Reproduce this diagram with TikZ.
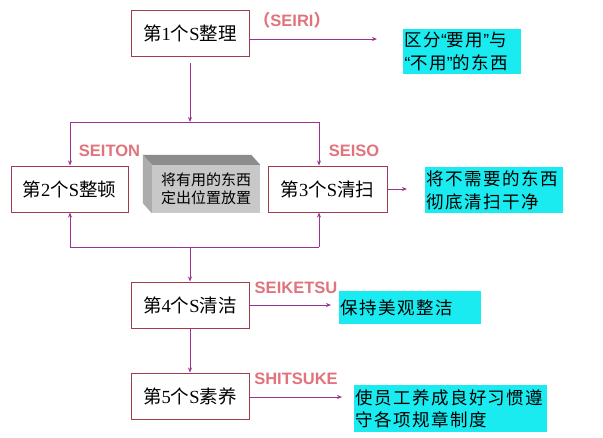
\documentclass[tikz,border=0pt]{standalone}
\usepackage{fontspec}
\usetikzlibrary{arrows.meta}
\newfontfamily\cjk{Noto Sans CJK SC}
\newfontfamily\cjkls{Noto Sans CJK SC}[LetterSpace=8]
\newfontfamily\lserif{Liberation Serif}
\newfontfamily\lsans{Liberation Sans}
\definecolor{bordercol}{RGB}{160,60,75}
\definecolor{arrowcol}{RGB}{155,50,145}
\definecolor{labelcol}{RGB}{225,115,125}
\definecolor{cyanfill}{RGB}{25,235,240}
\definecolor{grayfront}{RGB}{200,200,200}
\definecolor{grayside}{RGB}{172,172,172}
\definecolor{graytop}{RGB}{140,140,140}
\newcommand{\stitle}[2]{{\cjk 第}{\lserif #1}{\cjk 个}{\lserif S}{\cjk #2}}
\newcommand{\lqt}{{\lsans “}}
\newcommand{\rqt}{{\lsans ”}}
\begin{document}
\begin{tikzpicture}[x=1pt,y=-1pt,
  sbox/.style={draw=bordercol, line width=1pt, fill=white, minimum width=118pt, minimum height=46pt, inner sep=0pt, font=\fontsize{18.5}{20}\selectfont},
  cbox/.style={fill=cyanfill, anchor=north west, inner xsep=1.5pt, inner ysep=0pt, align=left, font=\cjkls\fontsize{17.5}{22.5}\selectfont},
  lab/.style={text=labelcol, font=\lsans\bfseries\fontsize{16.5}{18}\selectfont, inner sep=0pt},
  graybox/.style={fill=grayfront, minimum width=108pt, minimum height=48pt, inner sep=0pt, align=center, font=\cjk\fontsize{15}{18}\selectfont},
  arr/.style={draw=arrowcol, line width=0.9pt, -{Stealth[length=5pt,width=4pt]}},
  conn/.style={draw=arrowcol, line width=0.9pt}]
\useasboundingbox (0,0) rectangle (603,437);
\fill[white] (0,0) rectangle (603,437);

% main boxes
\node[sbox] (b1) at (190,33.5) {\stitle{1}{整理}};
\node[sbox, minimum width=117pt] (b2) at (69.5,189) {\stitle{2}{整顿}};
\node[sbox, minimum width=119pt] (b3) at (327.5,189) {\stitle{3}{清扫}};
\node[sbox] (b4) at (190,305) {\stitle{4}{清洁}};
\node[sbox] (b5) at (190,396) {\stitle{5}{素养}};

% gray 3D box
\node[graybox] (gray) at (206,189) {将有用的东西\\定出位置放置};
\fill[graytop] ([shift={(-9,-10)}]gray.north west) -- ([shift={(-9,-10)}]gray.north east) -- (gray.north east) -- (gray.north west) -- cycle;
\fill[grayside] ([shift={(-9,-10)}]gray.north west) -- (gray.north west) -- (gray.south west) -- ([shift={(-9,-10)}]gray.south west) -- cycle;

% cyan boxes
\node[cbox, minimum width=118pt, minimum height=45pt, text width=115pt] (c1) at (403,29) {区分\lqt 要用\rqt 与\\\lqt 不用\rqt 的东西};
\node[cbox, minimum width=138pt, minimum height=46pt, text width=135pt] (c3) at (425,167) {将不需要的东西\\彻底清扫干净};
\node[cbox, minimum width=142pt, minimum height=33pt, text width=139pt] (c4) at (339,291) {保持美观整洁};
\node[cbox, minimum width=193pt, minimum height=47pt, text width=190pt] (c5) at (354,385) {使员工养成良好习惯遵\\守各项规章制度};

% labels
\node[lab] (l1) at (292,20) {{\cjk （}SEIRI{\cjk ）}};
\node[lab] (l2) at (109.5,151) {SEITON};
\node[lab] (l3) at (354,151) {SEISO};
\node[lab] (l4) at (296,288) {SEIKETSU};
\node[lab] (l5) at (296,379) {SHITSUKE};

% connector points
\coordinate (e1) at (377,39);
\coordinate (e3) at (407,189);
\coordinate (e4) at (331,305);
\coordinate (e5) at (342,397);
\coordinate (j1) at (190,122);
\coordinate (jl) at (70,122);
\coordinate (jr) at (319,122);
\coordinate (k1) at (190,247);
\coordinate (kl) at (70,247);
\coordinate (kr) at (319,247);

% connectors
\draw[arr] (b1.east |- e1) -- (e1);
\draw[arr, shorten <=6pt] (b1.south) -- (j1);
\draw[conn] (jl) -- (jr);
\draw[arr] (jl) -- (jl |- b2.north);
\draw[arr] (jr) -- (jr |- b3.north);
\draw[arr] (b3.east) -- (e3);
\draw[conn] (kl) -- (kr);
\draw[arr] (kl) -- (kl |- b2.south);
\draw[arr] (kr) -- (kr |- b3.south);
\draw[arr] (k1) -- (b4.north);
\draw[arr] (b4.east) -- (e4);
\draw[arr] (b4.south) -- (b5.north);
\draw[arr] (b5.east |- e5) -- (e5);
\end{tikzpicture}
\end{document}
